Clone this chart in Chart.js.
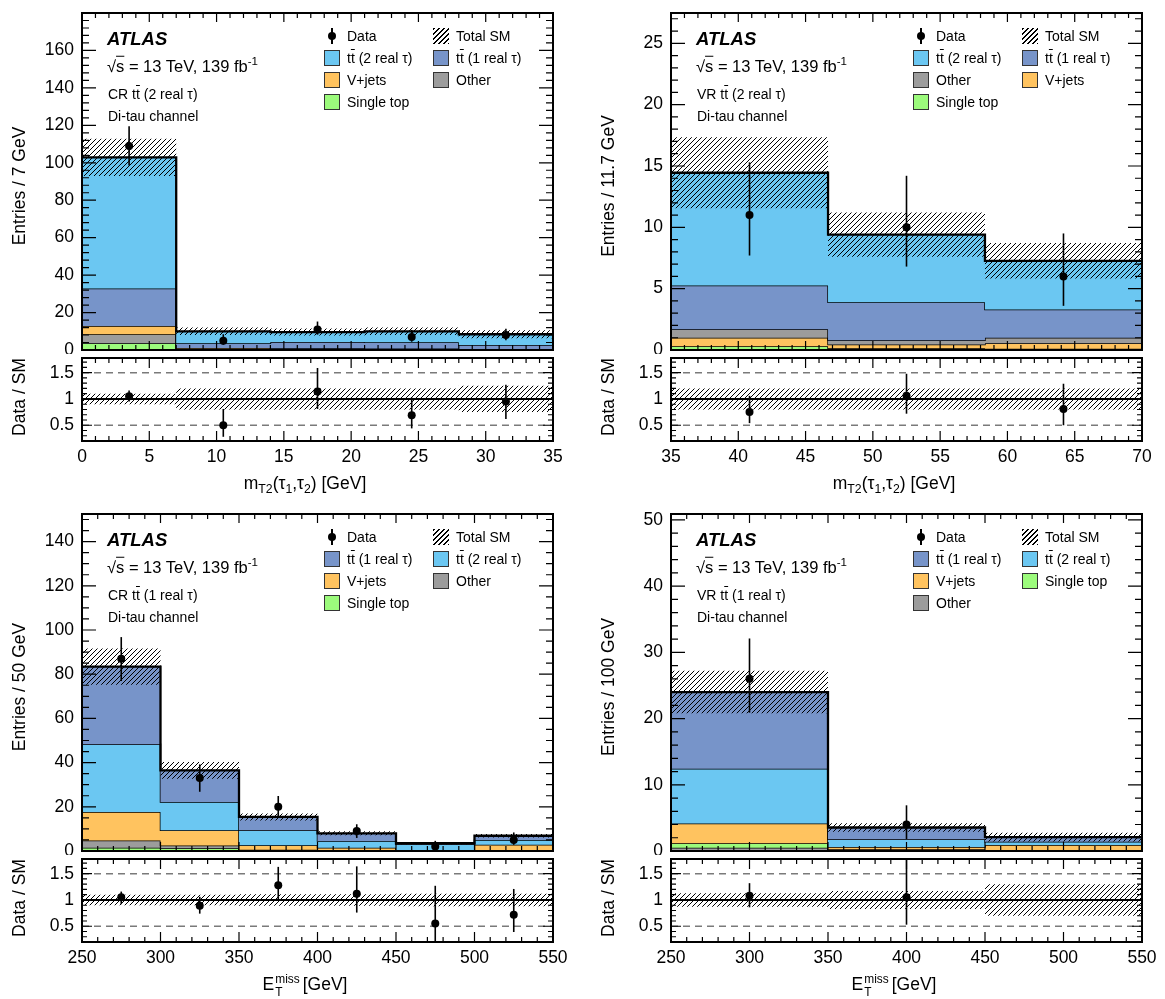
<!DOCTYPE html>
<html>
<head>
<meta charset="utf-8">
<title>ttbar control and validation regions, di-tau channel</title>
<script src="https://cdn.jsdelivr.net/npm/chart.js@4.4.1/dist/chart.umd.min.js"></script>
<style>
  body { margin: 0; background: #fff; }
  #wrap { position: relative; width: 1165px; height: 999px; overflow: hidden; font-family: "Liberation Sans", Arial, sans-serif; color: #000; }
  #wrap canvas { position: absolute; }
  .t { position: absolute; white-space: nowrap; line-height: 1; transform: translateY(-50%); }
  .c { transform: translate(-50%, -50%); }
  .v { position: absolute; white-space: nowrap; line-height: 1; writing-mode: vertical-rl; transform: translate(-50%, -50%) rotate(180deg); font-size: 17.5px; }
  .ov { text-decoration: overline; }
  sub { font-size: 0.7em; vertical-align: -0.3em; line-height: 0; }
  sup { font-size: 0.7em; vertical-align: 0.55em; line-height: 0; }
  .ss { display: inline-block; vertical-align: -0.45em; font-size: 0.68em; line-height: 1.05; margin: 0 3px 0 1px; }
  .ss span { display: block; }
  .box { position: absolute; width: 16px; height: 16px; box-sizing: border-box; border: 1px solid #333; }
</style>
</head>
<body>
<div id="wrap"></div>
<script>
// ---- CR ttbar (2 real tau), mT2 ----
const aEdges = [0, 7, 14, 21, 28, 35];
const aSingleTop = [3.6, 0.2, 0.2, 0.2, 0.1];
const aOther = [4.8, 0.3, 0.3, 0.3, 0.2];
const aVjets = [4.4, 0.6, 0.4, 0.3, 0.3];
const aTT1 = [20.1, 2.5, 3.4, 3.3, 2.1];
const aTT2 = [70.0, 6.4, 5.3, 5.9, 5.7];
const aSMErr = [10, 2.0, 1.9, 2.0, 2.1];
const aData = [109, 5, 11, 7, 8];
const aDataHi = [119.5, 8.4, 15.2, 10.7, 11.4];
const aDataLo = [98.6, 2.8, 8.2, 4.4, 5.2];
const aRatio = [1.05, 0.5, 1.14, 0.69, 0.95];
const aRatioHi = [1.16, 0.81, 1.59, 1.03, 1.27];
const aRatioLo = [0.95, 0.28, 0.81, 0.44, 0.62];
const aRatioErr = [0.1, 0.2, 0.2, 0.2, 0.25];
const aXTicks = [0, 5, 10, 15, 20, 25, 30, 35];
const aYTicks = [0, 20, 40, 60, 80, 100, 120, 140, 160];

// ---- VR ttbar (2 real tau), mT2 ----
const bEdges = [35, 46.67, 58.33, 70];
const bSingleTop = [0.3, 0.15, 0.1];
const bVjets = [0.7, 0.3, 0.45];
const bOther = [0.7, 0.35, 0.45];
const bTT1 = [3.55, 3.1, 2.3];
const bTT2 = [9.2, 5.5, 3.97];
const bSMErr = [2.9, 1.8, 1.45];
const bData = [11, 10, 6];
const bDataHi = [15.3, 14.2, 9.5];
const bDataLo = [7.7, 6.8, 3.6];
const bRatio = [0.75, 1.06, 0.81];
const bRatioHi = [1.06, 1.48, 1.29];
const bRatioLo = [0.54, 0.72, 0.5];
const bRatioErr = [0.2, 0.2, 0.2];
const bXTicks = [35, 40, 45, 50, 55, 60, 65, 70];
const bYTicks = [0, 5, 10, 15, 20, 25];

// ---- CR ttbar (1 real tau), ETmiss ----
const cEdges = [250, 300, 350, 400, 450, 500, 550];
const cSingleTop = [1.5, 1.3, 0.3, 0.15, 0.05, 0.2];
const cOther = [3.3, 1.2, 0.3, 0.25, 0.1, 0.3];
const cVjets = [12.8, 6.9, 2.0, 1.1, 0.15, 2.3];
const cTT2 = [30.7, 12.8, 6.8, 3.0, 2.8, 2.2];
const cTT1 = [35.1, 14.3, 6.0, 3.5, 0.4, 1.9];
const cSMErr = [8.2, 3.8, 1.6, 0.9, 0.4, 0.8];
const cData = [87, 33, 20, 9, 2, 5];
const cDataHi = [96.8, 39.2, 24.9, 12.1, 4.6, 8.4];
const cDataLo = [76.9, 26.8, 15.0, 5.9, 0.7, 2.8];
const cRatio = [1.05, 0.89, 1.28, 1.12, 0.55, 0.72];
const cRatioHi = [1.16, 1.06, 1.63, 1.64, 1.27, 1.21];
const cRatioLo = [0.92, 0.74, 0.99, 0.76, 0.1, 0.39];
const cRatioErr = [0.1, 0.1, 0.11, 0.11, 0.12, 0.12];
const cXTicks = [250, 300, 350, 400, 450, 500, 550];
const cYTicks = [0, 20, 40, 60, 80, 100, 120, 140];

// ---- VR ttbar (1 real tau), ETmiss ----
const dEdges = [250, 350, 450, 550];
const dOther = [0.5, 0.15, 0.05];
const dSingleTop = [0.66, 0.1, 0.05];
const dVjets = [3.0, 0.35, 0.8];
const dTT2 = [8.25, 1.17, 0.5];
const dTT1 = [11.6, 1.78, 0.7];
const dSMErr = [3.2, 0.65, 0.65];
const dData = [26, 4, null];
const dDataHi = [32.1, 6.9, null];
const dDataLo = [20.9, 1.8, null];
const dRatio = [1.08, 1.05, null];
const dRatioHi = [1.32, 1.9, null];
const dRatioLo = [0.86, 0.53, null];
const dRatioErr = [0.13, 0.17, 0.3];
const dXTicks = [250, 300, 350, 400, 450, 500, 550];
const dYTicks = [0, 10, 20, 30, 40, 50];

const ratioYTicks = [0.5, 1, 1.5];

Chart.defaults.font.family = '"Liberation Sans", Arial, sans-serif';
Chart.defaults.color = '#000';

const COLORS = { tt2: '#6BC7F2', tt1: '#7794C9', vjets: '#FFC35F', other: '#9C9C9C', single: '#9CFB7C' };
const TT = 't<span class="ov">t</span>';
const LABELS = {
  data: 'Data', total: 'Total SM', tt2: TT + ' (2 real τ)', tt1: TT + ' (1 real τ)',
  vjets: 'V+jets', other: 'Other', single: 'Single top'
};
const MT2 = 'm<sub>T2</sub>(τ<sub>1</sub>,τ<sub>2</sub>) [GeV]';
const MET = 'E<span class="ss"><span>miss</span><span>T</span></span>[GeV]';

function makeHatch() {
  const c = document.createElement('canvas');
  c.width = 5; c.height = 5;
  const g = c.getContext('2d');
  g.strokeStyle = '#000'; g.lineWidth = 1;
  g.beginPath();
  g.moveTo(-1, 6); g.lineTo(6, -1);
  g.moveTo(-1, 1); g.lineTo(1, -1);
  g.moveTo(4, 6); g.lineTo(6, 4);
  g.stroke();
  return g.createPattern(c, 'repeat');
}
const HATCH = makeHatch();

// histogram outline: one point per left edge, plus the last right edge
function steps(edges, vals) {
  const pts = vals.map((v, i) => ({ x: edges[i], y: v }));
  pts.push({ x: edges[edges.length - 1], y: vals[vals.length - 1] });
  return pts;
}

function pointSet(xs, ys) {
  return {
    data: xs.map((x, i) => ({ x, y: ys[i] })), showLine: false,
    pointRadius: 4, pointHoverRadius: 4, pointBackgroundColor: '#000', pointBorderColor: '#000', pointBorderWidth: 0
  };
}

function hline(x0, x1, v, color, width, dash) {
  return { data: [{ x: x0, y: v }, { x: x1, y: v }], pointRadius: 0, borderColor: color, borderWidth: width, borderDash: dash, fill: false };
}

function errBars(xs, lo, hi) {
  return {
    id: 'errBars',
    afterDatasetsDraw(chart) {
      const { ctx, chartArea: a, scales: { x, y } } = chart;
      ctx.save();
      ctx.beginPath(); ctx.rect(a.left, a.top, a.right - a.left, a.bottom - a.top); ctx.clip();
      ctx.strokeStyle = '#000'; ctx.lineWidth = 1.6;
      xs.forEach((xv, i) => {
        if (lo[i] == null) return;
        const px = x.getPixelForValue(xv);
        ctx.beginPath();
        ctx.moveTo(px, y.getPixelForValue(lo[i]));
        ctx.lineTo(px, y.getPixelForValue(hi[i]));
        ctx.stroke();
      });
      ctx.restore();
    }
  };
}

function markValues(min, max, step) {
  const out = [];
  for (let k = Math.ceil(min / step - 1e-6); k * step <= max + 1e-6; k++) out.push(Math.round(k * step * 1e6) / 1e6);
  return out;
}
const isMajor = (v, m) => Math.abs(v / m - Math.round(v / m)) < 1e-6;

// ATLAS-style frame with inward major/minor ticks on all four sides
function frameTicks(s) {
  return {
    id: 'frameTicks',
    afterDatasetsDraw(chart) {
      const { ctx, chartArea: a, scales: { x, y } } = chart;
      ctx.save();
      ctx.strokeStyle = '#000'; ctx.lineWidth = 1.2;
      ctx.beginPath();
      markValues(x.min, x.max, s.xMinor).forEach(v => {
        const len = isMajor(v, s.xMajor) ? s.xLen[0] : s.xLen[1];
        const px = x.getPixelForValue(v);
        ctx.moveTo(px, a.bottom); ctx.lineTo(px, a.bottom - len);
        ctx.moveTo(px, a.top); ctx.lineTo(px, a.top + len);
      });
      markValues(y.min, y.max, s.yMinor).forEach(v => {
        const len = isMajor(v, s.yMajor) ? s.yLen[0] : s.yLen[1];
        const py = y.getPixelForValue(v);
        ctx.moveTo(a.left, py); ctx.lineTo(a.left + len, py);
        ctx.moveTo(a.right, py); ctx.lineTo(a.right - len, py);
      });
      ctx.stroke();
      ctx.lineWidth = 2;
      ctx.strokeRect(a.left, a.top, a.right - a.left, a.bottom - a.top);
      ctx.restore();
    }
  };
}

function chartOptions(o) {
  const font = { size: 17.5 };
  return {
    responsive: false, animation: false, devicePixelRatio: 1,
    layout: { padding: o.padding },
    plugins: { legend: { display: false }, tooltip: { enabled: false } },
    scales: {
      x: {
        type: 'linear', min: o.xmin, max: o.xmax,
        afterBuildTicks: sc => { sc.ticks = o.xTicks.map(v => ({ value: v })); },
        ticks: { display: o.xLabels, autoSkip: false, maxRotation: 0, padding: 6, font, color: '#000', callback: v => String(v) },
        grid: { display: false, drawTicks: false }, border: { display: false },
        afterFit: sc => { sc.height = o.xHeight; sc.paddingLeft = 0; sc.paddingRight = 0; }
      },
      y: {
        type: 'linear', min: o.ymin, max: o.ymax,
        afterBuildTicks: sc => { sc.ticks = o.yTicks.map(v => ({ value: v })); },
        ticks: { padding: 8, font, color: '#000', callback: v => String(v) },
        grid: { display: false, drawTicks: false }, border: { display: false },
        afterFit: sc => { sc.width = 82; sc.paddingTop = 0; sc.paddingBottom = 0; }
      }
    }
  };
}

const wrap = document.getElementById('wrap');

function addCanvas(left, top, w, h, white) {
  const c = document.createElement('canvas');
  c.width = w; c.height = h;
  c.style.left = left + 'px'; c.style.top = top + 'px';
  c.style.width = w + 'px'; c.style.height = h + 'px';
  if (white) c.style.background = '#fff';
  wrap.appendChild(c);
  return c;
}

function addText(x, y, html, size, cls) {
  const d = document.createElement('div');
  d.className = cls || 't';
  d.style.left = x + 'px'; d.style.top = y + 'px';
  if (size) d.style.fontSize = size + 'px';
  d.innerHTML = html;
  wrap.appendChild(d);
  return d;
}

function addLegend(ox, oy, col, row, key) {
  const bx = ox + (col ? 433 : 324);
  const cy = oy + 35.7 + row * 22.1;
  if (key === 'data') {
    const bar = document.createElement('div');
    bar.style.cssText = `position:absolute;left:${bx + 7.2}px;top:${cy - 8}px;width:1.6px;height:16px;background:#000`;
    const dot = document.createElement('div');
    dot.style.cssText = `position:absolute;left:${bx + 4}px;top:${cy - 4}px;width:8px;height:8px;border-radius:50%;background:#000`;
    wrap.appendChild(bar); wrap.appendChild(dot);
  } else {
    const b = document.createElement('div');
    b.className = 'box';
    b.style.left = bx + 'px'; b.style.top = (cy - 8) + 'px';
    if (key === 'total') {
      b.style.border = 'none';
      b.style.background = 'repeating-linear-gradient(-45deg, #000 0 1px, transparent 1px 3.5px)';
    } else {
      b.style.background = COLORS[key];
    }
    wrap.appendChild(b);
  }
  addText(bx + 23, cy, LABELS[key], 14);
}

function buildPanel(p) {
  const n = p.edges.length - 1;
  const xmin = p.edges[0], xmax = p.edges[n];
  const centers = p.edges.slice(0, n).map((e, i) => (e + p.edges[i + 1]) / 2);

  // cumulative stack, bottom to top
  let cum = new Array(n).fill(0);
  const levels = p.stack.map(([vals, key]) => {
    cum = cum.map((v, i) => v + vals[i]);
    return { cum: cum.slice(), key };
  });
  const total = cum;
  const stackSets = levels.slice().reverse().map((l, k, arr) => ({
    data: steps(p.edges, l.cum), stepped: 'before', pointRadius: 0,
    borderColor: '#000', borderWidth: k === 0 ? 2.3 : 1.5,
    backgroundColor: COLORS[l.key], fill: k === arr.length - 1 ? 'origin' : '+1'
  }));

  const main = addCanvas(p.ox, p.oy, 575, 365, false);
  new Chart(main, {
    type: 'line',
    data: {
      datasets: [
        pointSet(centers, p.data),
        { data: steps(p.edges, total.map((t, i) => t + p.smErr[i])), stepped: 'before', pointRadius: 0,
          borderColor: 'rgba(0,0,0,0)', borderWidth: 0, backgroundColor: HATCH, fill: '+1' },
        { data: steps(p.edges, total.map((t, i) => t - p.smErr[i])), stepped: 'before', pointRadius: 0,
          borderColor: 'rgba(0,0,0,0)', borderWidth: 0, fill: false },
        ...stackSets
      ]
    },
    options: chartOptions({
      xmin, xmax, ymin: 0, ymax: p.ymax, xTicks: p.xTicks, yTicks: p.yTicks, xLabels: false,
      padding: { top: 13, right: 22, bottom: 15, left: 0 }, xHeight: 0
    }),
    plugins: [errBars(centers, p.dataLo, p.dataHi),
      frameTicks({ xMajor: p.xMajor, xMinor: p.xMinor, yMajor: p.yMajor, yMinor: p.yMinor, xLen: [9, 5], yLen: [14, 7] })]
  });

  const ratio = addCanvas(p.ox, p.oy + 354, 575, 146, true);
  new Chart(ratio, {
    type: 'line',
    data: {
      datasets: [
        pointSet(centers, p.ratio),
        hline(xmin, xmax, 1, '#000', 2, []),
        { data: steps(p.edges, p.ratioErr.map(e => 1 + e)), stepped: 'before', pointRadius: 0,
          borderColor: 'rgba(0,0,0,0)', borderWidth: 0, backgroundColor: HATCH, fill: '+1' },
        { data: steps(p.edges, p.ratioErr.map(e => 1 - e)), stepped: 'before', pointRadius: 0,
          borderColor: 'rgba(0,0,0,0)', borderWidth: 0, fill: false },
        hline(xmin, xmax, 0.5, '#7a7a7a', 1.4, [7, 5]),
        hline(xmin, xmax, 1.5, '#7a7a7a', 1.4, [7, 5])
      ]
    },
    options: chartOptions({
      xmin, xmax, ymin: 0.2, ymax: 1.78, xTicks: p.xTicks, yTicks: ratioYTicks, xLabels: true,
      padding: { top: 3, right: 22, bottom: 0, left: 0 }, xHeight: 59
    }),
    plugins: [errBars(centers, p.ratioLo, p.ratioHi),
      frameTicks({ xMajor: p.xMajor, xMinor: p.xMinor, yMajor: 0.5, yMinor: 0.1, xLen: [10, 5], yLen: [10, 5] })]
  });

  // labels
  addText(p.ox + 107, p.oy + 39, '<b><i>ATLAS</i></b>', 18.5);
  addText(p.ox + 107, p.oy + 66, '√<span class="ov">s</span> = 13 TeV, 139 fb<sup>-1</sup>', 16.5);
  addText(p.ox + 108, p.oy + 94, p.region, 14);
  addText(p.ox + 108, p.oy + 116, 'Di-tau channel', 14);
  p.legend.forEach((colItems, col) => colItems.forEach((key, row) => addLegend(p.ox, p.oy, col, row, key)));
  addText(p.ox + 20, p.oy + 186, p.ytitle, null, 'v');
  addText(p.ox + 20, p.oy + 397, 'Data / SM', null, 'v');
  addText(p.ox + 305, p.oy + 484, p.xtitle, 17.5, 't c');
}

buildPanel({
  ox: 0, oy: 0, edges: aEdges,
  stack: [[aSingleTop, 'single'], [aOther, 'other'], [aVjets, 'vjets'], [aTT1, 'tt1'], [aTT2, 'tt2']],
  smErr: aSMErr, data: aData, dataLo: aDataLo, dataHi: aDataHi,
  ratio: aRatio, ratioLo: aRatioLo, ratioHi: aRatioHi, ratioErr: aRatioErr,
  ymax: 180, xTicks: aXTicks, yTicks: aYTicks, xMajor: 5, xMinor: 1, yMajor: 20, yMinor: 4,
  region: 'CR ' + TT + ' (2 real τ)', ytitle: 'Entries / 7 GeV', xtitle: MT2,
  legend: [['data', 'tt2', 'vjets', 'single'], ['total', 'tt1', 'other']]
});

buildPanel({
  ox: 589, oy: 0, edges: bEdges,
  stack: [[bSingleTop, 'single'], [bVjets, 'vjets'], [bOther, 'other'], [bTT1, 'tt1'], [bTT2, 'tt2']],
  smErr: bSMErr, data: bData, dataLo: bDataLo, dataHi: bDataHi,
  ratio: bRatio, ratioLo: bRatioLo, ratioHi: bRatioHi, ratioErr: bRatioErr,
  ymax: 27.47, xTicks: bXTicks, yTicks: bYTicks, xMajor: 5, xMinor: 1, yMajor: 5, yMinor: 1,
  region: 'VR ' + TT + ' (2 real τ)', ytitle: 'Entries / 11.7 GeV', xtitle: MT2,
  legend: [['data', 'tt2', 'other', 'single'], ['total', 'tt1', 'vjets']]
});

buildPanel({
  ox: 0, oy: 501, edges: cEdges,
  stack: [[cSingleTop, 'single'], [cOther, 'other'], [cVjets, 'vjets'], [cTT2, 'tt2'], [cTT1, 'tt1']],
  smErr: cSMErr, data: cData, dataLo: cDataLo, dataHi: cDataHi,
  ratio: cRatio, ratioLo: cRatioLo, ratioHi: cRatioHi, ratioErr: cRatioErr,
  ymax: 152.5, xTicks: cXTicks, yTicks: cYTicks, xMajor: 50, xMinor: 10, yMajor: 20, yMinor: 5,
  region: 'CR ' + TT + ' (1 real τ)', ytitle: 'Entries / 50 GeV', xtitle: MET,
  legend: [['data', 'tt1', 'vjets', 'single'], ['total', 'tt2', 'other']]
});

buildPanel({
  ox: 589, oy: 501, edges: dEdges,
  stack: [[dOther, 'other'], [dSingleTop, 'single'], [dVjets, 'vjets'], [dTT2, 'tt2'], [dTT1, 'tt1']],
  smErr: dSMErr, data: dData, dataLo: dDataLo, dataHi: dDataHi,
  ratio: dRatio, ratioLo: dRatioLo, ratioHi: dRatioHi, ratioErr: dRatioErr,
  ymax: 50.9, xTicks: dXTicks, yTicks: dYTicks, xMajor: 50, xMinor: 10, yMajor: 10, yMinor: 2,
  region: 'VR ' + TT + ' (1 real τ)', ytitle: 'Entries / 100 GeV', xtitle: MET,
  legend: [['data', 'tt1', 'vjets', 'other'], ['total', 'tt2', 'single']]
});
</script>
</body>
</html>
